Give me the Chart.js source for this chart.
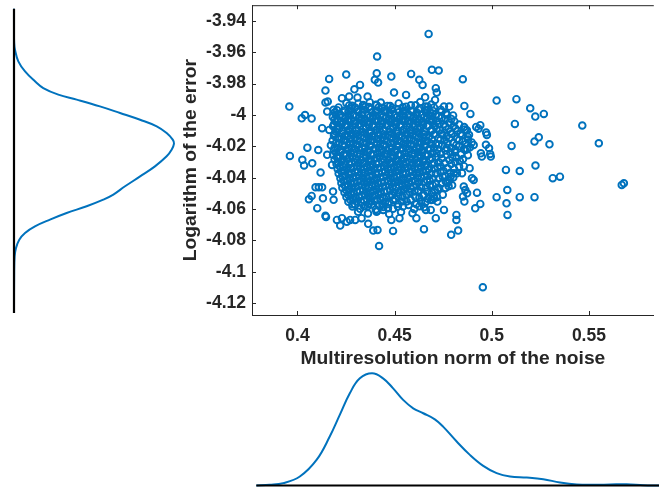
<!DOCTYPE html>
<html>
<head>
<meta charset="utf-8">
<script src="https://cdn.jsdelivr.net/npm/chart.js@4"></script>
<style>
  html, body { margin: 0; padding: 0; background: #fff; }
  body { width: 659px; height: 489px; position: relative; overflow: hidden; }
  canvas { position: absolute; }
  #mainChart { left: 170px; top: 0; }
  #leftChart { left: 0; top: 0; }
  #bottomChart { left: 252px; top: 360px; }
</style>
</head>
<body>
<canvas id="leftChart" width="200" height="320"></canvas>
<canvas id="mainChart" width="489" height="380"></canvas>
<canvas id="bottomChart" width="407" height="129"></canvas>
<script>
// tick labels
const xTicks = [0.4, 0.45, 0.5, 0.55];
const yTicks = [-4.12, -4.1, -4.08, -4.06, -4.04, -4.02, -4, -3.98, -3.96, -3.94];

// axis limits
const xLimits = [0.3766, 0.5834];
const yLimits = [-4.1275, -3.93];

// scattered samples: [noise norm, log error]
const outerSamples = [
  [0.3958,-3.9946],[0.3961,-4.0261],[0.4022,-4.0021],[0.4039,-4.0000],[0.4073,-4.0023],[0.4051,-4.0208],
  [0.4107,-4.0223],[0.4025,-4.0286],[0.4034,-4.0322],[0.4076,-4.0308],[0.4059,-4.0537],[0.4073,-4.0516],
  [0.4102,-4.0594],[0.4093,-4.0461],[0.4110,-4.0461],[0.4127,-4.0461],[0.4119,-4.0367],[0.4131,-4.0531],
  [0.4144,-4.0643],[0.4147,-4.0650],[0.4153,-4.0254],[0.4127,-4.0084],[0.4144,-3.9921],[0.4156,-3.9914],
  [0.4144,-3.9844],[0.4163,-3.9770],[0.4153,-3.9978],[0.4164,-4.0095],[0.4178,-4.0318],[0.4183,-4.0488],
  [0.4186,-4.0541],[0.4203,-4.0669],[0.4220,-4.0705],[0.4229,-4.0658],[0.4186,-3.9967],[0.4229,-3.9893],
  [0.4251,-3.9742],[0.4293,-3.9836],[0.4322,-3.9808],[0.4266,-3.9882],[0.4309,-3.9889],[0.4361,-3.9882],
  [0.4410,-3.9627],[0.4408,-3.9734],[0.4398,-3.9776],[0.4415,-3.9793],[0.4483,-3.9755],[0.4497,-3.9857],
  [0.4559,-3.9872],[0.4585,-3.9738],[0.4627,-3.9776],[0.4644,-3.9808],[0.4657,-3.9887],[0.4661,-3.9946],
  [0.4670,-3.9967],[0.4675,-3.9483],[0.4692,-3.9712],[0.4727,-3.9717],[0.4712,-3.9829],[0.4717,-3.9857],
  [0.4708,-3.9904],[0.4851,-3.9772],[0.4859,-3.9942],[0.4890,-3.9993],[0.4754,-3.9946],[0.4781,-3.9946],
  [0.4941,-4.0065],[0.4920,-4.0076],[0.4932,-4.0087],[0.4971,-4.0112],[0.4975,-4.0127],[0.4907,-4.0191],
  [0.4873,-4.0218],[0.4970,-4.0190],[0.4986,-4.0212],[0.4992,-4.0248],[0.4995,-4.0265],[0.4944,-4.0244],
  [0.4949,-4.0265],[0.5025,-3.9908],[0.5127,-3.9899],[0.5198,-3.9957],[0.5224,-4.0010],[0.5268,-3.9993],
  [0.5119,-4.0057],[0.5102,-4.0197],[0.5220,-4.0169],[0.5242,-4.0142],[0.5297,-4.0187],[0.5466,-4.0067],
  [0.5551,-4.0180],[0.5073,-4.0350],[0.5144,-4.0357],[0.5225,-4.0322],[0.5314,-4.0403],[0.5351,-4.0393],
  [0.5669,-4.0446],[0.5680,-4.0435],[0.5025,-4.0524],[0.5080,-4.0478],[0.5076,-4.0563],[0.5081,-4.0637],
  [0.5144,-4.0524],[0.5220,-4.0524],[0.4886,-4.0339],[0.4898,-4.0403],[0.4907,-4.0414],[0.4847,-4.0371],
  [0.4856,-4.0456],[0.4864,-4.0478],[0.4873,-4.0499],[0.4852,-4.0520],[0.4859,-4.0552],[0.4924,-4.0495],
  [0.4941,-4.0567],[0.4915,-4.0595],[0.4818,-4.0637],[0.4818,-4.0669],[0.4827,-4.0737],[0.4791,-4.0764],
  [0.4954,-4.1098],[0.4712,-4.0658],[0.4754,-4.0605],[0.4651,-4.0728],[0.4612,-4.0658],[0.4492,-4.0739],
  [0.4483,-4.0669],[0.4525,-4.0658],[0.4420,-4.0835],[0.4390,-4.0737],[0.4412,-4.0733],[0.4364,-4.0694],
  [0.4330,-4.0658],[0.4297,-4.0669],[0.4254,-4.0680],[0.4271,-4.0669],[0.4407,-4.0616],[0.4441,-4.0605],
  [0.4466,-4.0594],[0.4661,-4.0605],[0.4686,-4.0605],[0.4695,-4.0541],[0.4703,-4.0531],[0.4720,-4.0552],
  [0.4771,-4.0435],[0.4788,-4.0393],[0.4805,-4.0371]
];

// dense cloud, estimated row by row
const coreSamples = [
  [0.4252,-3.9924],[0.4281,-3.9941],[0.4313,-3.9927],[0.4338,-3.9936],[0.4372,-3.9918],[0.4404,-3.9935],[0.4429,-3.9921],[0.4463,-3.9942],[0.4521,-3.9926],[0.4584,-3.9938],[0.4632,-3.9917],[0.4689,-3.9933],
  [0.4212,-3.9952],[0.4243,-3.9971],[0.4278,-3.9957],[0.4306,-3.9966],[0.4349,-3.9948],[0.4377,-3.9963],[0.4418,-3.9951],[0.4446,-3.9974],[0.4488,-3.9955],[0.4517,-3.9964],[0.4559,-3.9947],[0.4586,-3.9973],[0.4628,-3.9958],[0.4657,-3.9969],[0.4703,-3.9952],[0.4738,-3.9966],
  [0.4193,-3.9983],[0.4221,-3.9998],[0.4262,-3.9979],[0.4291,-3.9996],[0.4334,-3.9985],[0.4362,-4.0002],[0.4403,-3.9981],[0.4431,-3.9993],[0.4474,-3.9986],[0.4502,-4.0001],[0.4543,-3.9978],[0.4571,-3.9995],[0.4614,-3.9984],[0.4642,-3.9999],[0.4683,-3.9982],[0.4712,-3.9997],[0.4764,-3.9988],[0.4801,-4.0003],
  [0.4182,-4.0012],[0.4208,-4.0031],[0.4247,-4.0015],[0.4276,-4.0028],[0.4318,-4.0009],[0.4347,-4.0026],[0.4388,-4.0014],[0.4416,-4.0033],[0.4457,-4.0011],[0.4486,-4.0024],[0.4528,-4.0016],[0.4556,-4.0029],[0.4598,-4.0008],[0.4627,-4.0027],[0.4668,-4.0013],[0.4697,-4.0032],[0.4743,-4.0017],[0.4792,-4.0025],
  [0.4197,-4.0043],[0.4228,-4.0061],[0.4266,-4.0042],[0.4297,-4.0057],[0.4338,-4.0046],[0.4368,-4.0063],[0.4407,-4.0041],[0.4437,-4.0058],[0.4478,-4.0045],[0.4507,-4.0062],[0.4548,-4.0039],[0.4577,-4.0056],[0.4618,-4.0047],[0.4647,-4.0064],[0.4692,-4.0044],[0.4728,-4.0059],[0.4781,-4.0048],[0.4832,-4.0061],
  [0.4183,-4.0072],[0.4214,-4.0089],[0.4252,-4.0074],[0.4283,-4.0091],[0.4322,-4.0071],[0.4353,-4.0086],[0.4392,-4.0076],[0.4423,-4.0093],[0.4462,-4.0069],[0.4493,-4.0087],[0.4532,-4.0075],[0.4563,-4.0092],[0.4602,-4.0073],[0.4633,-4.0088],[0.4672,-4.0071],[0.4716,-4.0089],[0.4762,-4.0074],[0.4813,-4.0086],[0.4858,-4.0077],
  [0.4196,-4.0104],[0.4231,-4.0118],[0.4264,-4.0102],[0.4302,-4.0121],[0.4333,-4.0106],[0.4372,-4.0117],[0.4403,-4.0099],[0.4442,-4.0122],[0.4473,-4.0107],[0.4512,-4.0119],[0.4543,-4.0101],[0.4582,-4.0116],[0.4613,-4.0105],[0.4652,-4.0123],[0.4688,-4.0103],[0.4741,-4.0118],[0.4787,-4.0106],[0.4838,-4.0121],[0.4872,-4.0098],
  [0.4188,-4.0133],[0.4226,-4.0151],[0.4258,-4.0136],[0.4297,-4.0147],[0.4328,-4.0131],[0.4367,-4.0152],[0.4398,-4.0138],[0.4437,-4.0146],[0.4468,-4.0129],[0.4507,-4.0153],[0.4538,-4.0135],[0.4577,-4.0148],[0.4608,-4.0132],[0.4647,-4.0151],[0.4678,-4.0137],[0.4726,-4.0149],[0.4768,-4.0134],[0.4822,-4.0152],[0.4876,-4.0138],
  [0.4181,-4.0163],[0.4216,-4.0178],[0.4248,-4.0161],[0.4287,-4.0182],[0.4318,-4.0166],[0.4357,-4.0177],[0.4388,-4.0159],[0.4427,-4.0181],[0.4458,-4.0164],[0.4497,-4.0176],[0.4528,-4.0168],[0.4567,-4.0183],[0.4598,-4.0162],[0.4637,-4.0179],[0.4668,-4.0165],[0.4712,-4.0184],[0.4757,-4.0161],[0.4802,-4.0178],[0.4851,-4.0167],[0.4897,-4.0175],
  [0.4172,-4.0193],[0.4206,-4.0211],[0.4241,-4.0196],[0.4277,-4.0208],[0.4308,-4.0189],[0.4347,-4.0213],[0.4378,-4.0194],[0.4417,-4.0207],[0.4448,-4.0191],[0.4487,-4.0212],[0.4518,-4.0197],[0.4557,-4.0204],[0.4588,-4.0188],[0.4627,-4.0214],[0.4658,-4.0195],[0.4702,-4.0209],[0.4746,-4.0192],[0.4792,-4.0211],[0.4833,-4.0198],[0.4888,-4.0206],
  [0.4187,-4.0224],[0.4222,-4.0238],[0.4256,-4.0221],[0.4292,-4.0243],[0.4323,-4.0226],[0.4362,-4.0237],[0.4393,-4.0219],[0.4432,-4.0241],[0.4463,-4.0228],[0.4502,-4.0236],[0.4533,-4.0218],[0.4572,-4.0242],[0.4603,-4.0225],[0.4642,-4.0239],[0.4673,-4.0222],[0.4716,-4.0244],[0.4762,-4.0227],[0.4811,-4.0238],[0.4863,-4.0223],
  [0.4183,-4.0253],[0.4214,-4.0271],[0.4252,-4.0256],[0.4283,-4.0267],[0.4322,-4.0249],[0.4353,-4.0272],[0.4392,-4.0254],[0.4423,-4.0266],[0.4462,-4.0251],[0.4493,-4.0273],[0.4532,-4.0257],[0.4563,-4.0264],[0.4602,-4.0248],[0.4633,-4.0269],[0.4672,-4.0255],[0.4713,-4.0268],[0.4767,-4.0252],[0.4818,-4.0271],[0.4877,-4.0256],
  [0.4191,-4.0283],[0.4226,-4.0298],[0.4258,-4.0281],[0.4297,-4.0302],[0.4328,-4.0286],[0.4367,-4.0297],[0.4398,-4.0279],[0.4437,-4.0301],[0.4468,-4.0284],[0.4507,-4.0296],[0.4538,-4.0288],[0.4577,-4.0303],[0.4608,-4.0282],[0.4647,-4.0299],[0.4681,-4.0285],[0.4728,-4.0302],[0.4782,-4.0287],[0.4836,-4.0295],
  [0.4201,-4.0313],[0.4236,-4.0331],[0.4268,-4.0316],[0.4307,-4.0327],[0.4338,-4.0309],[0.4377,-4.0332],[0.4408,-4.0314],[0.4447,-4.0326],[0.4478,-4.0311],[0.4517,-4.0333],[0.4548,-4.0317],[0.4587,-4.0324],[0.4618,-4.0308],[0.4657,-4.0329],[0.4692,-4.0315],[0.4738,-4.0328],[0.4791,-4.0312],[0.4857,-4.0326],
  [0.4207,-4.0344],[0.4242,-4.0358],[0.4276,-4.0341],[0.4312,-4.0363],[0.4343,-4.0346],[0.4382,-4.0357],[0.4413,-4.0339],[0.4452,-4.0361],[0.4483,-4.0348],[0.4522,-4.0356],[0.4553,-4.0338],[0.4592,-4.0362],[0.4623,-4.0345],[0.4662,-4.0359],[0.4703,-4.0342],[0.4752,-4.0357],[0.4806,-4.0344],
  [0.4212,-4.0373],[0.4246,-4.0391],[0.4278,-4.0376],[0.4317,-4.0387],[0.4348,-4.0369],[0.4387,-4.0392],[0.4418,-4.0374],[0.4457,-4.0386],[0.4488,-4.0371],[0.4527,-4.0393],[0.4558,-4.0377],[0.4597,-4.0384],[0.4628,-4.0368],[0.4667,-4.0389],[0.4712,-4.0375],[0.4762,-4.0388],[0.4821,-4.0372],
  [0.4221,-4.0403],[0.4256,-4.0418],[0.4288,-4.0401],[0.4327,-4.0422],[0.4358,-4.0406],[0.4397,-4.0417],[0.4428,-4.0399],[0.4467,-4.0421],[0.4498,-4.0404],[0.4537,-4.0416],[0.4568,-4.0408],[0.4607,-4.0423],[0.4638,-4.0402],[0.4681,-4.0419],[0.4727,-4.0405],[0.4782,-4.0418],
  [0.4226,-4.0434],[0.4262,-4.0451],[0.4293,-4.0436],[0.4332,-4.0447],[0.4363,-4.0429],[0.4402,-4.0452],[0.4433,-4.0434],[0.4472,-4.0446],[0.4503,-4.0431],[0.4542,-4.0453],[0.4573,-4.0437],[0.4612,-4.0444],[0.4652,-4.0428],[0.4697,-4.0449],[0.4742,-4.0435],[0.4796,-4.0448],
  [0.4231,-4.0463],[0.4266,-4.0478],[0.4298,-4.0461],[0.4337,-4.0482],[0.4368,-4.0466],[0.4407,-4.0477],[0.4438,-4.0459],[0.4477,-4.0481],[0.4508,-4.0464],[0.4547,-4.0476],[0.4582,-4.0468],[0.4622,-4.0483],[0.4661,-4.0462],[0.4707,-4.0479],[0.4762,-4.0465],
  [0.4242,-4.0494],[0.4276,-4.0508],[0.4308,-4.0491],[0.4347,-4.0512],[0.4378,-4.0496],[0.4417,-4.0507],[0.4448,-4.0489],[0.4487,-4.0511],[0.4522,-4.0494],[0.4562,-4.0506],[0.4603,-4.0488],[0.4647,-4.0513],[0.4692,-4.0497],[0.4748,-4.0508],
  [0.4252,-4.0523],[0.4287,-4.0541],[0.4318,-4.0526],[0.4357,-4.0537],[0.4388,-4.0519],[0.4427,-4.0542],[0.4458,-4.0524],[0.4502,-4.0536],[0.4541,-4.0521],[0.4582,-4.0543],[0.4627,-4.0527],[0.4671,-4.0534],[0.4718,-4.0522],
  [0.4262,-4.0553],[0.4296,-4.0571],[0.4328,-4.0556],[0.4367,-4.0567],[0.4398,-4.0549],[0.4437,-4.0572],[0.4472,-4.0554],[0.4517,-4.0566],[0.4562,-4.0551],[0.4612,-4.0569],[0.4658,-4.0557],
  [0.4283,-4.0584],[0.4322,-4.0598],[0.4362,-4.0581],[0.4403,-4.0602],[0.4442,-4.0586],[0.4492,-4.0597],[0.4543,-4.0583],[0.4601,-4.0599],[0.4652,-4.0588],
  [0.4312,-4.0617],[0.4363,-4.0628],[0.4411,-4.0612],[0.4472,-4.0631],[0.4533,-4.0618],[0.4592,-4.0626]
];

// second pass over the dense cloud, between the rows above
const coreSamples2 = [
  [0.4266,-3.9939],[0.4297,-3.9952],[0.4336,-3.9941],[0.4368,-3.9949],[0.4407,-3.9937],[0.4438,-3.9954],[0.4477,-3.9943],[0.4542,-3.9951],[0.4608,-3.9938],[0.4671,-3.9947],
  [0.4204,-3.9969],[0.4241,-3.9982],[0.4273,-3.9971],[0.4312,-3.9979],[0.4343,-3.9967],[0.4382,-3.9984],[0.4413,-3.9973],[0.4452,-3.9981],[0.4483,-3.9968],[0.4522,-3.9983],[0.4553,-3.9972],[0.4592,-3.9979],[0.4623,-3.9966],[0.4662,-3.9985],[0.4698,-3.9974],[0.4741,-3.9978],
  [0.4197,-3.9999],[0.4232,-4.0012],[0.4263,-4.0001],[0.4302,-4.0009],[0.4333,-3.9997],[0.4372,-4.0014],[0.4403,-4.0003],[0.4442,-4.0011],[0.4473,-3.9998],[0.4512,-4.0013],[0.4543,-4.0002],[0.4582,-4.0009],[0.4613,-3.9996],[0.4652,-4.0015],[0.4686,-4.0004],[0.4727,-4.0008],[0.4771,-3.9999],
  [0.4191,-4.0029],[0.4226,-4.0042],[0.4258,-4.0031],[0.4293,-4.0039],[0.4327,-4.0027],[0.4362,-4.0044],[0.4397,-4.0033],[0.4432,-4.0041],[0.4467,-4.0028],[0.4502,-4.0043],[0.4537,-4.0032],[0.4572,-4.0039],[0.4607,-4.0026],[0.4642,-4.0045],[0.4678,-4.0034],[0.4718,-4.0038],[0.4762,-4.0029],[0.4808,-4.0041],
  [0.4188,-4.0059],[0.4212,-4.0072],[0.4247,-4.0061],[0.4282,-4.0069],[0.4317,-4.0057],[0.4352,-4.0074],[0.4387,-4.0063],[0.4422,-4.0071],[0.4457,-4.0058],[0.4492,-4.0073],[0.4527,-4.0062],[0.4562,-4.0069],[0.4597,-4.0056],[0.4632,-4.0075],[0.4667,-4.0064],[0.4706,-4.0068],[0.4752,-4.0059],[0.4803,-4.0071],
  [0.4201,-4.0089],[0.4233,-4.0102],[0.4268,-4.0091],[0.4303,-4.0099],[0.4338,-4.0087],[0.4373,-4.0104],[0.4408,-4.0093],[0.4443,-4.0101],[0.4478,-4.0088],[0.4513,-4.0103],[0.4548,-4.0092],[0.4583,-4.0099],[0.4618,-4.0086],[0.4653,-4.0105],[0.4692,-4.0094],[0.4733,-4.0098],[0.4778,-4.0089],[0.4823,-4.0101],[0.4862,-4.0092],
  [0.4192,-4.0119],[0.4242,-4.0132],[0.4277,-4.0121],[0.4312,-4.0129],[0.4347,-4.0117],[0.4382,-4.0134],[0.4417,-4.0123],[0.4452,-4.0131],[0.4487,-4.0118],[0.4522,-4.0133],[0.4557,-4.0122],[0.4592,-4.0129],[0.4627,-4.0116],[0.4662,-4.0135],[0.4702,-4.0124],[0.4747,-4.0128],[0.4793,-4.0119],[0.4847,-4.0131],[0.4883,-4.0126],
  [0.4207,-4.0149],[0.4237,-4.0162],[0.4272,-4.0151],[0.4307,-4.0159],[0.4342,-4.0147],[0.4377,-4.0164],[0.4412,-4.0153],[0.4447,-4.0161],[0.4482,-4.0148],[0.4517,-4.0163],[0.4552,-4.0152],[0.4587,-4.0159],[0.4622,-4.0146],[0.4657,-4.0165],[0.4692,-4.0154],[0.4736,-4.0158],[0.4782,-4.0149],[0.4832,-4.0161],[0.4878,-4.0156],
  [0.4198,-4.0179],[0.4232,-4.0192],[0.4267,-4.0181],[0.4302,-4.0189],[0.4337,-4.0177],[0.4372,-4.0194],[0.4407,-4.0183],[0.4442,-4.0191],[0.4477,-4.0178],[0.4512,-4.0193],[0.4547,-4.0182],[0.4582,-4.0189],[0.4617,-4.0176],[0.4652,-4.0195],[0.4687,-4.0184],[0.4727,-4.0188],[0.4772,-4.0179],[0.4818,-4.0191],[0.4866,-4.0186],
  [0.4191,-4.0209],[0.4227,-4.0222],[0.4262,-4.0211],[0.4297,-4.0219],[0.4332,-4.0207],[0.4367,-4.0224],[0.4402,-4.0213],[0.4437,-4.0221],[0.4472,-4.0208],[0.4507,-4.0223],[0.4542,-4.0212],[0.4577,-4.0219],[0.4612,-4.0206],[0.4647,-4.0225],[0.4682,-4.0214],[0.4722,-4.0218],[0.4768,-4.0209],[0.4812,-4.0221],[0.4857,-4.0216],
  [0.4198,-4.0239],[0.4238,-4.0252],[0.4273,-4.0241],[0.4308,-4.0249],[0.4343,-4.0237],[0.4378,-4.0254],[0.4413,-4.0243],[0.4448,-4.0251],[0.4483,-4.0238],[0.4518,-4.0253],[0.4553,-4.0242],[0.4588,-4.0249],[0.4623,-4.0236],[0.4658,-4.0255],[0.4693,-4.0244],[0.4738,-4.0248],[0.4787,-4.0239],[0.4842,-4.0251],
  [0.4203,-4.0269],[0.4233,-4.0282],[0.4268,-4.0271],[0.4303,-4.0279],[0.4338,-4.0267],[0.4373,-4.0284],[0.4408,-4.0273],[0.4443,-4.0281],[0.4478,-4.0268],[0.4513,-4.0283],[0.4548,-4.0272],[0.4583,-4.0279],[0.4618,-4.0266],[0.4653,-4.0285],[0.4692,-4.0274],[0.4742,-4.0278],[0.4797,-4.0269],[0.4852,-4.0281],
  [0.4208,-4.0299],[0.4243,-4.0312],[0.4278,-4.0301],[0.4313,-4.0309],[0.4348,-4.0297],[0.4383,-4.0314],[0.4418,-4.0303],[0.4453,-4.0311],[0.4488,-4.0298],[0.4523,-4.0313],[0.4558,-4.0302],[0.4593,-4.0309],[0.4628,-4.0296],[0.4663,-4.0315],[0.4703,-4.0304],[0.4757,-4.0308],[0.4812,-4.0299],
  [0.4218,-4.0329],[0.4253,-4.0342],[0.4288,-4.0331],[0.4323,-4.0339],[0.4358,-4.0327],[0.4393,-4.0344],[0.4428,-4.0333],[0.4463,-4.0341],[0.4498,-4.0328],[0.4533,-4.0343],[0.4568,-4.0332],[0.4603,-4.0339],[0.4638,-4.0326],[0.4677,-4.0345],[0.4722,-4.0334],[0.4772,-4.0338],[0.4832,-4.0329],
  [0.4226,-4.0359],[0.4261,-4.0372],[0.4296,-4.0361],[0.4331,-4.0369],[0.4366,-4.0357],[0.4401,-4.0374],[0.4436,-4.0363],[0.4471,-4.0371],[0.4506,-4.0358],[0.4541,-4.0373],[0.4576,-4.0362],[0.4611,-4.0369],[0.4646,-4.0356],[0.4688,-4.0375],[0.4736,-4.0364],[0.4787,-4.0368],
  [0.4231,-4.0389],[0.4266,-4.0402],[0.4301,-4.0391],[0.4336,-4.0399],[0.4371,-4.0387],[0.4406,-4.0404],[0.4441,-4.0393],[0.4476,-4.0401],[0.4511,-4.0388],[0.4546,-4.0403],[0.4581,-4.0392],[0.4616,-4.0399],[0.4652,-4.0386],[0.4698,-4.0405],[0.4748,-4.0394],[0.4802,-4.0398],
  [0.4238,-4.0419],[0.4273,-4.0432],[0.4308,-4.0421],[0.4343,-4.0429],[0.4378,-4.0417],[0.4413,-4.0434],[0.4448,-4.0423],[0.4483,-4.0431],[0.4518,-4.0418],[0.4553,-4.0433],[0.4588,-4.0422],[0.4626,-4.0429],[0.4667,-4.0416],[0.4712,-4.0435],[0.4763,-4.0424],
  [0.4243,-4.0449],[0.4278,-4.0462],[0.4313,-4.0451],[0.4348,-4.0459],[0.4383,-4.0447],[0.4418,-4.0464],[0.4453,-4.0453],[0.4488,-4.0461],[0.4523,-4.0448],[0.4558,-4.0463],[0.4596,-4.0452],[0.4637,-4.0459],[0.4682,-4.0446],[0.4728,-4.0465],[0.4778,-4.0454],
  [0.4251,-4.0479],[0.4286,-4.0492],[0.4321,-4.0481],[0.4356,-4.0489],[0.4391,-4.0477],[0.4426,-4.0494],[0.4461,-4.0483],[0.4496,-4.0491],[0.4536,-4.0478],[0.4578,-4.0493],[0.4622,-4.0482],[0.4668,-4.0489],[0.4721,-4.0476],
  [0.4261,-4.0509],[0.4296,-4.0522],[0.4331,-4.0511],[0.4366,-4.0519],[0.4401,-4.0507],[0.4436,-4.0524],[0.4476,-4.0513],[0.4518,-4.0521],[0.4561,-4.0508],[0.4607,-4.0523],[0.4652,-4.0512],[0.4702,-4.0519],
  [0.4271,-4.0539],[0.4306,-4.0552],[0.4341,-4.0541],[0.4376,-4.0549],[0.4411,-4.0537],[0.4451,-4.0554],[0.4493,-4.0543],[0.4537,-4.0551],[0.4583,-4.0538],[0.4636,-4.0553],[0.4688,-4.0542],
  [0.4283,-4.0569],[0.4343,-4.0582],[0.4382,-4.0571],[0.4421,-4.0579],[0.4466,-4.0567],[0.4517,-4.0584],[0.4572,-4.0573],[0.4628,-4.0581]
];

// marginal density of the noise norm (relative height)
const xGrid = [0.3788,0.3856,0.3924,0.4009,0.4094,0.4161,0.4212,0.4263,0.4314,0.4376,0.4432,0.4483,0.4534,0.4585,0.4636,0.4695,0.4737,0.4806,0.4873,0.4941,0.5009,0.5077,0.5162,0.5246,0.5331,0.5416,0.5500,0.5585,0.5670,0.5755,0.5835];
const xDensity = [0,0.006,0.021,0.080,0.228,0.436,0.629,0.822,0.955,1.000,0.955,0.866,0.763,0.688,0.644,0.590,0.525,0.392,0.273,0.175,0.110,0.080,0.071,0.056,0.027,0.009,0.006,0.009,0.012,0.003,0];

// marginal density of the log error (relative height)
const yGrid = [-3.9324,-3.9457,-3.9542,-3.9585,-3.9659,-3.9723,-3.9786,-3.9829,-3.9871,-3.9903,-3.9946,-3.9988,-4.0031,-4.0073,-4.0116,-4.0158,-4.0183,-4.0222,-4.0264,-4.0328,-4.0392,-4.0455,-4.0508,-4.0540,-4.0582,-4.0625,-4.0667,-4.0710,-4.0752,-4.0795,-4.0848,-4.0901,-4.1007,-4.1262];
const yDensity = [0,0,0.001,0.006,0.027,0.069,0.131,0.183,0.277,0.392,0.537,0.663,0.788,0.892,0.954,0.992,1.000,0.985,0.954,0.881,0.788,0.694,0.621,0.558,0.454,0.329,0.225,0.131,0.069,0.033,0.0125,0.004,0.001,0];

const blue = '#0072BD';
const ink = '#262626';
const font = 'Liberation Sans, Arial, Helvetica, sans-serif';

// MATLAB-style box with inward tick marks
const axisBox = {
  id: 'axisBox',
  afterDraw(chart) {
    const {ctx, chartArea: a, scales} = chart;
    const x = scales.x, y = scales.y;
    ctx.save();
    ctx.strokeStyle = ink;
    ctx.lineWidth = 1;
    ctx.beginPath();
    ctx.moveTo(a.left, a.top + 0.5);
    ctx.lineTo(a.right, a.top + 0.5);
    x.ticks.forEach(t => {
      const px = Math.round(x.getPixelForValue(t.value)) + 0.5;
      ctx.moveTo(px, a.bottom); ctx.lineTo(px, a.bottom - 4);
      ctx.moveTo(px, a.top); ctx.lineTo(px, a.top + 4);
    });
    y.ticks.forEach(t => {
      const py = Math.round(y.getPixelForValue(t.value)) + 0.5;
      ctx.moveTo(a.left, py); ctx.lineTo(a.left + 4, py);
    });
    ctx.stroke();
    ctx.restore();
  }
};

const samples = outerSamples.concat(coreSamples, coreSamples2);

new Chart(document.getElementById('mainChart'), {
  type: 'scatter',
  data: {
    datasets: [{
      data: samples.map(p => ({x: p[0], y: p[1]})),
      pointRadius: 3.3,
      pointBorderWidth: 1.9,
      borderColor: blue,
      backgroundColor: 'rgba(0,0,0,0)',
      pointHoverRadius: 3.3
    }]
  },
  options: {
    responsive: false,
    animation: false,
    devicePixelRatio: 1,
    layout: { padding: { top: 5, right: 0, left: 0, bottom: 0 } },
    plugins: { legend: { display: false }, tooltip: { enabled: false } },
    scales: {
      x: {
        type: 'linear',
        min: xLimits[0],
        max: xLimits[1],
        grid: { display: false, drawTicks: false },
        border: { display: true, color: ink, width: 1 },
        afterBuildTicks: s => { s.ticks = xTicks.map(v => ({value: v})); },
        afterFit: s => { s.height = 65; s.paddingLeft = 0; s.paddingRight = 0; },
        ticks: {
          padding: 11,
          color: ink,
          font: { family: font, size: 17.5, weight: 'bold' },
          callback: v => String(+v.toFixed(2))
        },
        title: {
          display: true,
          text: 'Multiresolution norm of the noise',
          color: ink,
          font: { family: font, size: 19.25, weight: 'bold' },
          padding: { top: 0, bottom: 10 }
        }
      },
      y: {
        type: 'linear',
        min: yLimits[0],
        max: yLimits[1],
        grid: { display: false, drawTicks: false },
        border: { display: true, color: ink, width: 1 },
        afterBuildTicks: s => { s.ticks = yTicks.map(v => ({value: v})); },
        afterFit: s => { s.width = 82; s.paddingTop = 0; s.paddingBottom = 0; },
        ticks: {
          padding: 6,
          color: ink,
          font: { family: font, size: 17.5, weight: 'bold' },
          callback: v => String(+v.toFixed(2))
        },
        title: {
          display: true,
          text: 'Logarithm of the error',
          color: ink,
          font: { family: font, size: 19.25, weight: 'bold' },
          padding: { top: 9, bottom: 0 }
        }
      }
    }
  },
  plugins: [axisBox]
});

// left marginal: density runs to the right, log error runs down
new Chart(document.getElementById('leftChart'), {
  type: 'scatter',
  data: {
    datasets: [{
      data: [{x: 0, y: yGrid[0]}, {x: 0, y: yGrid[yGrid.length - 1]}],
      showLine: true,
      borderColor: '#000',
      borderWidth: 2.2,
      pointRadius: 0,
      clip: false,
      order: 0
    }, {
      data: yGrid.map((v, i) => ({x: yDensity[i], y: v})),
      showLine: true,
      borderColor: blue,
      borderWidth: 2,
      pointRadius: 0,
      tension: 0.4,
      clip: false,
      order: 1
    }]
  },
  options: {
    responsive: false,
    animation: false,
    devicePixelRatio: 1,
    layout: { padding: { top: 5, bottom: 5, left: 0, right: 0 } },
    plugins: { legend: { display: false }, tooltip: { enabled: false } },
    scales: {
      x: { type: 'linear', display: false, min: -0.0875, max: 1.1625 },
      y: { type: 'linear', display: false, min: yLimits[0], max: yLimits[1] }
    }
  }
});

// bottom marginal: density of the noise norm
new Chart(document.getElementById('bottomChart'), {
  type: 'scatter',
  data: {
    datasets: [{
      data: [{x: xGrid[0], y: 0}, {x: xGrid[xGrid.length - 1], y: 0}],
      showLine: true,
      borderColor: '#000',
      borderWidth: 2.2,
      pointRadius: 0,
      clip: false,
      order: 0
    }, {
      data: xGrid.map((v, i) => ({x: v, y: xDensity[i]})),
      showLine: true,
      borderColor: blue,
      borderWidth: 2,
      pointRadius: 0,
      tension: 0.4,
      clip: false,
      order: 1
    }]
  },
  options: {
    responsive: false,
    animation: false,
    devicePixelRatio: 1,
    layout: { padding: 0 },
    plugins: { legend: { display: false }, tooltip: { enabled: false } },
    scales: {
      x: { type: 'linear', display: false, min: xLimits[0], max: xLimits[1] },
      y: { type: 'linear', display: false, min: -0.0312, max: 1.1185 }
    }
  }
});
</script>
</body>
</html>
